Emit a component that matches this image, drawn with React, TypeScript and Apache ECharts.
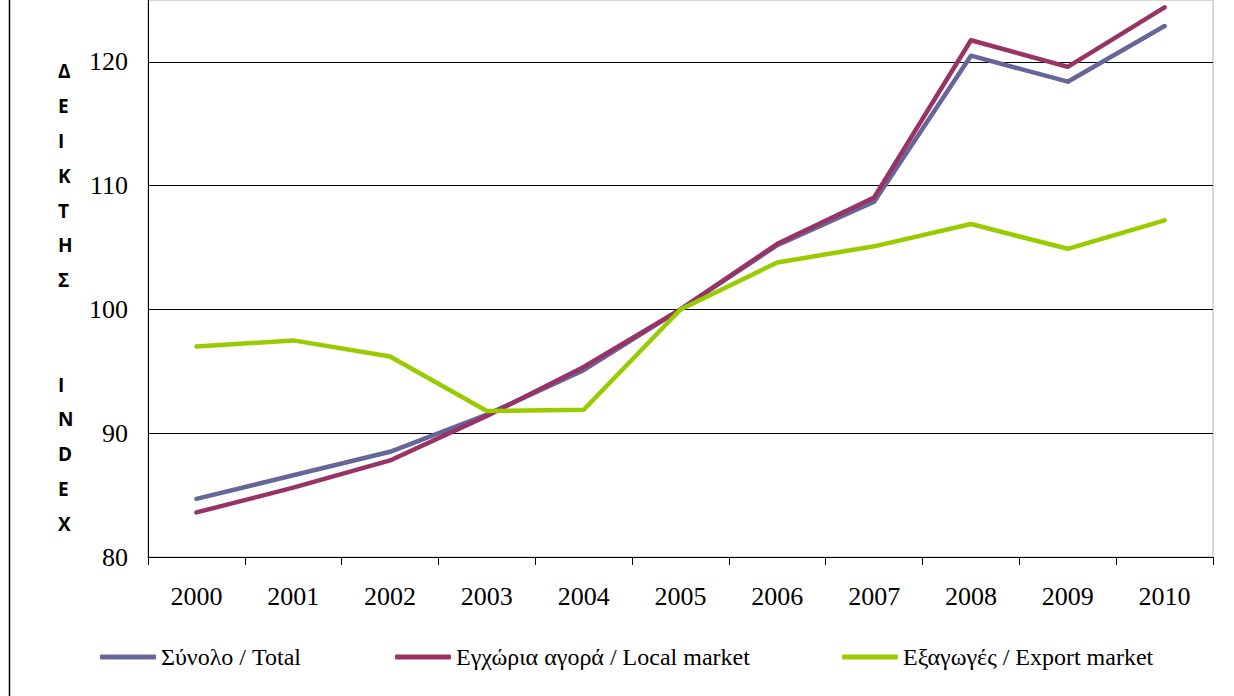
import React, { useEffect, useRef } from "react";
import * as echarts from "echarts";

const years = ["2000", "2001", "2002", "2003", "2004", "2005", "2006", "2007", "2008", "2009", "2010"];
const totalValues = [84.7, 86.6, 88.5, 91.5, 95.1, 100, 105.2, 108.7, 120.5, 118.4, 122.9];
const localValues = [83.6, 85.6, 87.8, 91.4, 95.35, 100, 105.3, 109.05, 121.75, 119.6, 124.4];
const exportValues = [97.0, 97.5, 96.2, 91.8, 91.9, 100, 103.8, 105.1, 106.9, 104.9, 107.2];
const seriesNames = ["Σύνολο / Total", "Εγχώρια αγορά / Local market", "Εξαγωγές / Export market"];
const seriesColors = ["#666699", "#993366", "#99CC00"];
const yTitle = "Δ\nΕ\nΙ\nΚ\nΤ\nΗ\nΣ\n\n\nI\nN\nD\nE\nX";

export default function App() {
  const ref = useRef<HTMLDivElement>(null);
  useEffect(() => {
    if (!ref.current) return;
    const chart = echarts.init(ref.current, null, { renderer: "svg" });
    const serif = "Times New Roman, Liberation Serif, serif";
    const values = [totalValues, localValues, exportValues];
    const legendLefts = [100, 395, 842];
    chart.setOption({
      animation: false,
      backgroundColor: "#ffffff",
      grid: {
        left: 148,
        right: 21,
        top: 0,
        bottom: 139,
        show: true,
        borderColor: "#b0b0b0",
        borderWidth: 1,
        containLabel: false,
      },
      legend: seriesNames.map((n, i) => ({
        data: [n],
        left: legendLefts[i],
        top: 645,
        padding: 0,
        icon: "roundRect",
        itemWidth: 56,
        itemHeight: 5,
        textStyle: { fontFamily: serif, fontSize: 24, color: "#000" },
        selectedMode: false,
      })),
      xAxis: {
        type: "category",
        data: years,
        boundaryGap: true,
        axisLine: { show: true, lineStyle: { color: "#000", width: 1 } },
        axisTick: { show: true, length: 8, lineStyle: { color: "#000" } },
        axisLabel: { fontFamily: serif, fontSize: 26, color: "#000", margin: 26 },
        splitLine: { show: false },
      },
      yAxis: {
        type: "value",
        min: 80,
        max: 125,
        interval: 10,
        axisLine: { show: true, lineStyle: { color: "#000", width: 1 } },
        axisTick: { show: false },
        axisLabel: { fontFamily: serif, fontSize: 26, color: "#000", margin: 20, showMaxLabel: false },
        splitLine: { show: true, showMaxLine: false, showMinLine: false, lineStyle: { color: "#000", width: 1 } },
      },
      graphic: [
        {
          type: "line",
          shape: { x1: 9.5, y1: 0, x2: 9.5, y2: 696 },
          style: { stroke: "#000", lineWidth: 1.5 },
        },
        {
          type: "text",
          left: 58,
          top: 54,
          style: {
            text: yTitle,
            fontFamily: "Open Sans",
            fontWeight: "bold",
            fontSize: 19,
            lineHeight: 34.8,
            fill: "#000",
            align: "center",
          },
        },
      ],
      series: seriesNames.map((n, i) => ({
        name: n,
        type: "line",
        data: values[i],
        symbol: "none",
        showSymbol: false,
        color: seriesColors[i],
        lineStyle: { width: 4.5, color: seriesColors[i], cap: "round", join: "round" },
      })),
    });
    return () => chart.dispose();
  }, []);
  return (
    <div
      ref={ref}
      style={{ position: "fixed", left: 0, top: 0, width: 1234, height: 696, background: "#fff" }}
    />
  );
}
